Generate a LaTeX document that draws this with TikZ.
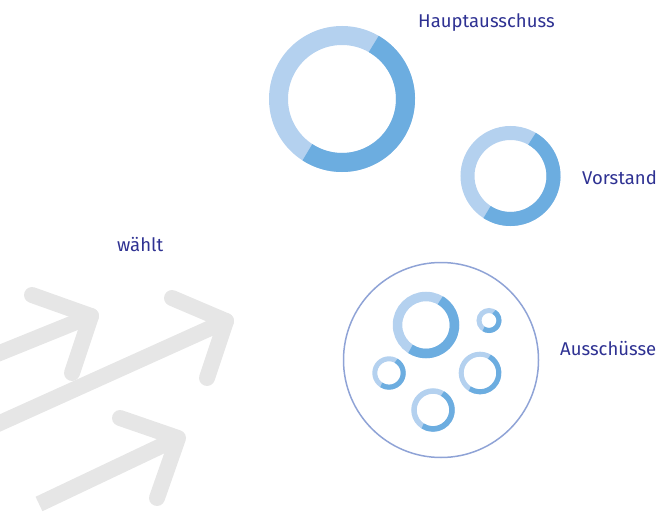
\documentclass[tikz,border=0pt]{standalone}
\usepackage{fontspec}
\setmainfont{Fira Sans}
\definecolor{labelblue}{RGB}{46,49,146}
\definecolor{ringlight}{RGB}{180,209,239}
\definecolor{ringdark}{RGB}{108,173,224}
\definecolor{poolline}{RGB}{143,163,214}
\definecolor{arrowgrey}{RGB}{230,230,230}
% donut ring: centre x, centre y, mid radius, ring width
\newcommand\donut[4]{%
  \draw[line width=#4pt, draw=ringlight] (#1,#2) circle[radius=#3];
  \draw[line width=#4pt, draw=ringdark] ([shift={(60:#3)}]#1,#2)
    arc[start angle=60, end angle=-123, radius=#3];
}
\tikzset{
  label/.style={text=labelblue, font=\fontsize{18.5}{20}\selectfont, inner sep=0pt, anchor=base west},
  bigarrow/.style={draw=arrowgrey, line width=16pt, line cap=round, line join=round},
}
\begin{document}
\begin{tikzpicture}[x=1pt, y=1pt]
\useasboundingbox (0,0) rectangle (666,512);

% grey arrows in the lower left
\begin{scope}
  \clip (0,0) rectangle (666,512);
  \coordinate (t1) at (91,196);
  \draw[bigarrow] (-30,147) -- (t1);
  \draw[bigarrow] (32,217) -- (t1) -- (72,139);
  \coordinate (t2) at (226,191);
  \draw[bigarrow] (-30,75.5) -- (t2);
  \draw[bigarrow] (172,214) -- (t2) -- (207,134);
  \coordinate (t3) at (178,74);
  \coordinate (s3) at (39,8);
  \draw[bigarrow, line cap=butt] (s3) -- (t3);
  \draw[bigarrow] (120,94) -- (t3) -- (157,14);
\end{scope}

% committees
\donut{342}{413}{63.5}{19}
\donut{510.5}{336}{43}{14}

% pool of sub-committees
\draw[draw=poolline, line width=1.5pt] (441,152) circle[radius=97.5];
\donut{426}{187}{28.5}{9.5}
\donut{489}{191.5}{10}{5}
\donut{389}{139}{14.2}{5}
\donut{480}{139}{18.8}{5}
\donut{433}{102}{19}{5.5}

% labels
\node[label] (haupt) at (418,484.3) {Hauptausschuss};
\node[label] (vorstand) at (582,327) {Vorstand};
\node[label] (waehlt) at (117,260.3) {wählt};
\node[label] (aussch) at (560,157) {Ausschüsse};
\end{tikzpicture}
\end{document}
